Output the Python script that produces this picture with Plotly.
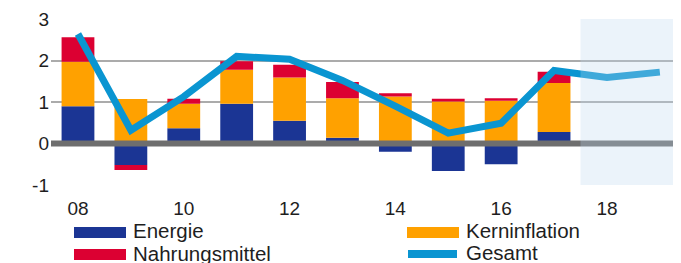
import plotly.graph_objects as go

# ---- data ----
bar_years = [2008, 2009, 2010, 2011, 2012, 2013, 2014, 2015, 2016, 2017]
energie = [0.90, -0.52, 0.37, 0.96, 0.55, 0.14, -0.20, -0.66, -0.50, 0.28]
kerninflation = [1.07, 1.07, 0.59, 0.82, 1.04, 0.95, 1.13, 1.01, 1.03, 1.18]
nahrungsmittel = [0.59, -0.12, 0.12, 0.20, 0.31, 0.39, 0.08, 0.07, 0.06, 0.27]
line_years = [2008, 2009, 2010, 2011, 2012, 2013, 2014, 2015, 2016, 2017, 2018, 2019]
gesamt = [2.64, 0.32, 1.13, 2.10, 2.03, 1.52, 0.90, 0.25, 0.49, 1.76, 1.59, 1.72]
tick_vals = [2008, 2010, 2012, 2014, 2016, 2018]
tick_text = ["08", "10", "12", "14", "16", "18"]
y_ticks = [-1, 0, 1, 2, 3]
y_text = ["-1", "0", "1", "2", "3"]
forecast_start = 2017.5

C_EN = "#1b3594"
C_KE = "#ffa100"
C_NA = "#dc0032"
C_GE = "#0a95d1"
FONT = "Liberation Sans, Arial, sans-serif"
TXT = "#1e1e1e"

# page body has an 8px margin: figure is shrunk so it fills the window exactly
OFF = 8
W, H = 681 - OFF, 263 - OFF
ML, MR, MT, MB = 51 - OFF, 0, 19 - OFF, 78
PW, PH = W - ML - MR, H - MT - MB

fig = go.Figure()
bw = 0.62
fig.add_bar(x=bar_years, y=energie, name="Energie", marker_color=C_EN, width=bw,
            marker_line_width=0)
fig.add_bar(x=bar_years, y=kerninflation, name="Kerninflation", marker_color=C_KE, width=bw,
            marker_line_width=0)
fig.add_bar(x=bar_years, y=nahrungsmittel, name="Nahrungsmittel", marker_color=C_NA, width=bw,
            marker_line_width=0)
fig.add_scatter(x=line_years, y=gesamt, name="Gesamt", mode="lines",
                line=dict(color=C_GE, width=7))

fig.update_traces(showlegend=False)

x0, x1 = 2007.49, 2019.40

shapes = [
    dict(type="line", xref="x", yref="y", x0=x0, x1=x1, y0=0, y1=0,
         line=dict(color="#6e6e6e", width=6), layer="above"),
    dict(type="rect", xref="x", yref="y", x0=forecast_start, x1=x1, y0=-1, y1=3,
         fillcolor="rgba(190,215,240,0.3)", line_width=0, layer="above"),
]

# absolute window pixel -> paper coords
def px(xp):
    return (xp - OFF - ML) / PW

def py(yp):
    return (H - MB - (yp - OFF)) / PH

# manual legend
leg = [
    ("Energie", C_EN, 74, 126, 232.5, 131, "bar"),
    ("Nahrungsmittel", C_NA, 74, 126, 254.5, 131, "bar"),
    ("Kerninflation", C_KE, 407, 459, 232.5, 464, "bar"),
    ("Gesamt", C_GE, 408, 457, 254, 464, "line"),
]
annotations = []
for name, col, sx0, sx1, sy, tx, kind in leg:
    if kind == "bar":
        shapes.append(dict(type="rect", xref="paper", yref="paper",
                           x0=px(sx0), x1=px(sx1), y0=py(sy + 5.5), y1=py(sy - 5.5),
                           fillcolor=col, line_width=0))
    else:
        shapes.append(dict(type="line", xref="paper", yref="paper",
                           x0=px(sx0), x1=px(sx1), y0=py(sy), y1=py(sy),
                           line=dict(color=col, width=8)))
    annotations.append(dict(xref="paper", yref="paper", x=px(tx), y=py(sy - 1.5),
                            text=name, showarrow=False, xanchor="left", yanchor="middle",
                            font=dict(family=FONT, size=20.5, color=TXT)))

fig.update_layout(
    width=W, height=H,
    margin=dict(l=ML, r=MR, t=MT, b=MB, pad=0),
    barmode="relative",
    plot_bgcolor="white", paper_bgcolor="white",
    font=dict(family=FONT, size=19, color=TXT),
    shapes=shapes,
    annotations=annotations,
    showlegend=False,
    xaxis=dict(range=[x0, x1], tickmode="array", tickvals=tick_vals, ticktext=tick_text,
               showgrid=False, zeroline=False, showline=False, ticks="",
               ticklabelstandoff=10, tickfont=dict(size=19, color=TXT)),
    yaxis=dict(range=[-1, 3], tickmode="array", tickvals=y_ticks, ticktext=y_text,
               showgrid=True, gridcolor="#ababab", gridwidth=1.5, zeroline=False,
               showline=False, ticks="", ticklabelstandoff=1,
               tickfont=dict(size=19, color=TXT)),
)

fig.write_html("out.html")
